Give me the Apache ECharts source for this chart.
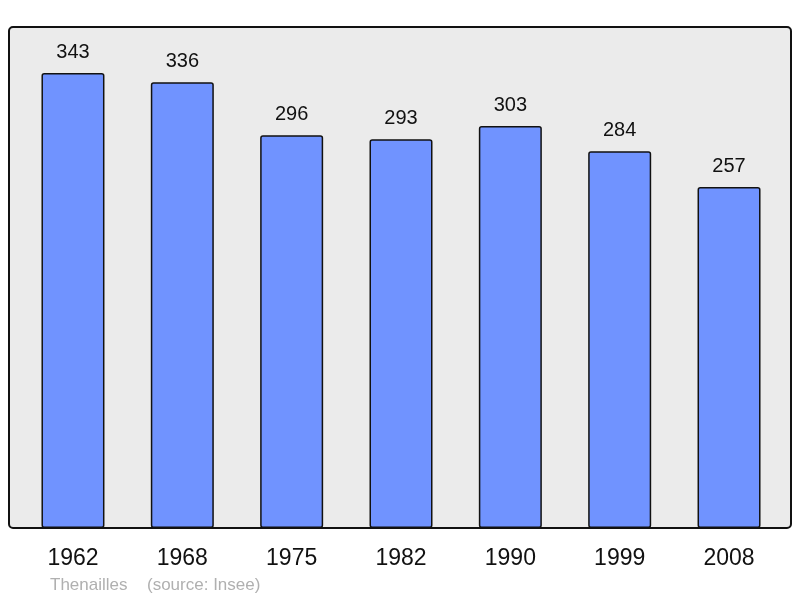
<!DOCTYPE html>
<html><head><meta charset="utf-8">
<script src="https://cdn.jsdelivr.net/npm/echarts@6/dist/echarts.min.js"></script>
<style>html,body{margin:0;padding:0;background:#fff}#c{width:800px;height:598px}</style>
</head><body><div id="c"></div>
<script>
var years = ['1962','1968','1975','1982','1990','1999','2008'];
var population = [343,336,296,293,303,284,257];
var commune = 'Thenailles';
var source = '(source: Insee)';
var chart = echarts.init(document.getElementById('c'), null, {renderer:'canvas'});
var ff = '"Liberation Sans", Arial, sans-serif';
chart.setOption({
  animation:false,
  backgroundColor:'#ffffff',
  graphic:[
    {type:'rect', z:0, shape:{x:9,y:27,width:782,height:501,r:4},
     style:{fill:'#ebebeb',stroke:'#111',lineWidth:2}},
    {type:'text', left:50, top:577, style:{text:commune, fill:'#b0b0b0', font:'17px ' + ff}},
    {type:'text', left:147, top:577, style:{text:source, fill:'#b0b0b0', font:'17px ' + ff}}
  ],
  grid:{left:18.3, right:16.3, top:27, bottom:70},
  xAxis:{type:'category', data:years, axisLine:{show:false}, axisTick:{show:false},
    axisLabel:{color:'#111', fontSize:23, margin:19, fontFamily:ff}},
  yAxis:{type:'value', min:0, max:377.7, show:false, splitLine:{show:false}},
  series:[{type:'bar', data:population, barWidth:63, z:5,
    itemStyle:{color:'#7093ff', borderColor:'#111', borderWidth:1.5, borderRadius:2},
    label:{show:true, position:'top', distance:11, color:'#111', fontSize:20, fontFamily:ff}
  }]
});
</script></body></html>
